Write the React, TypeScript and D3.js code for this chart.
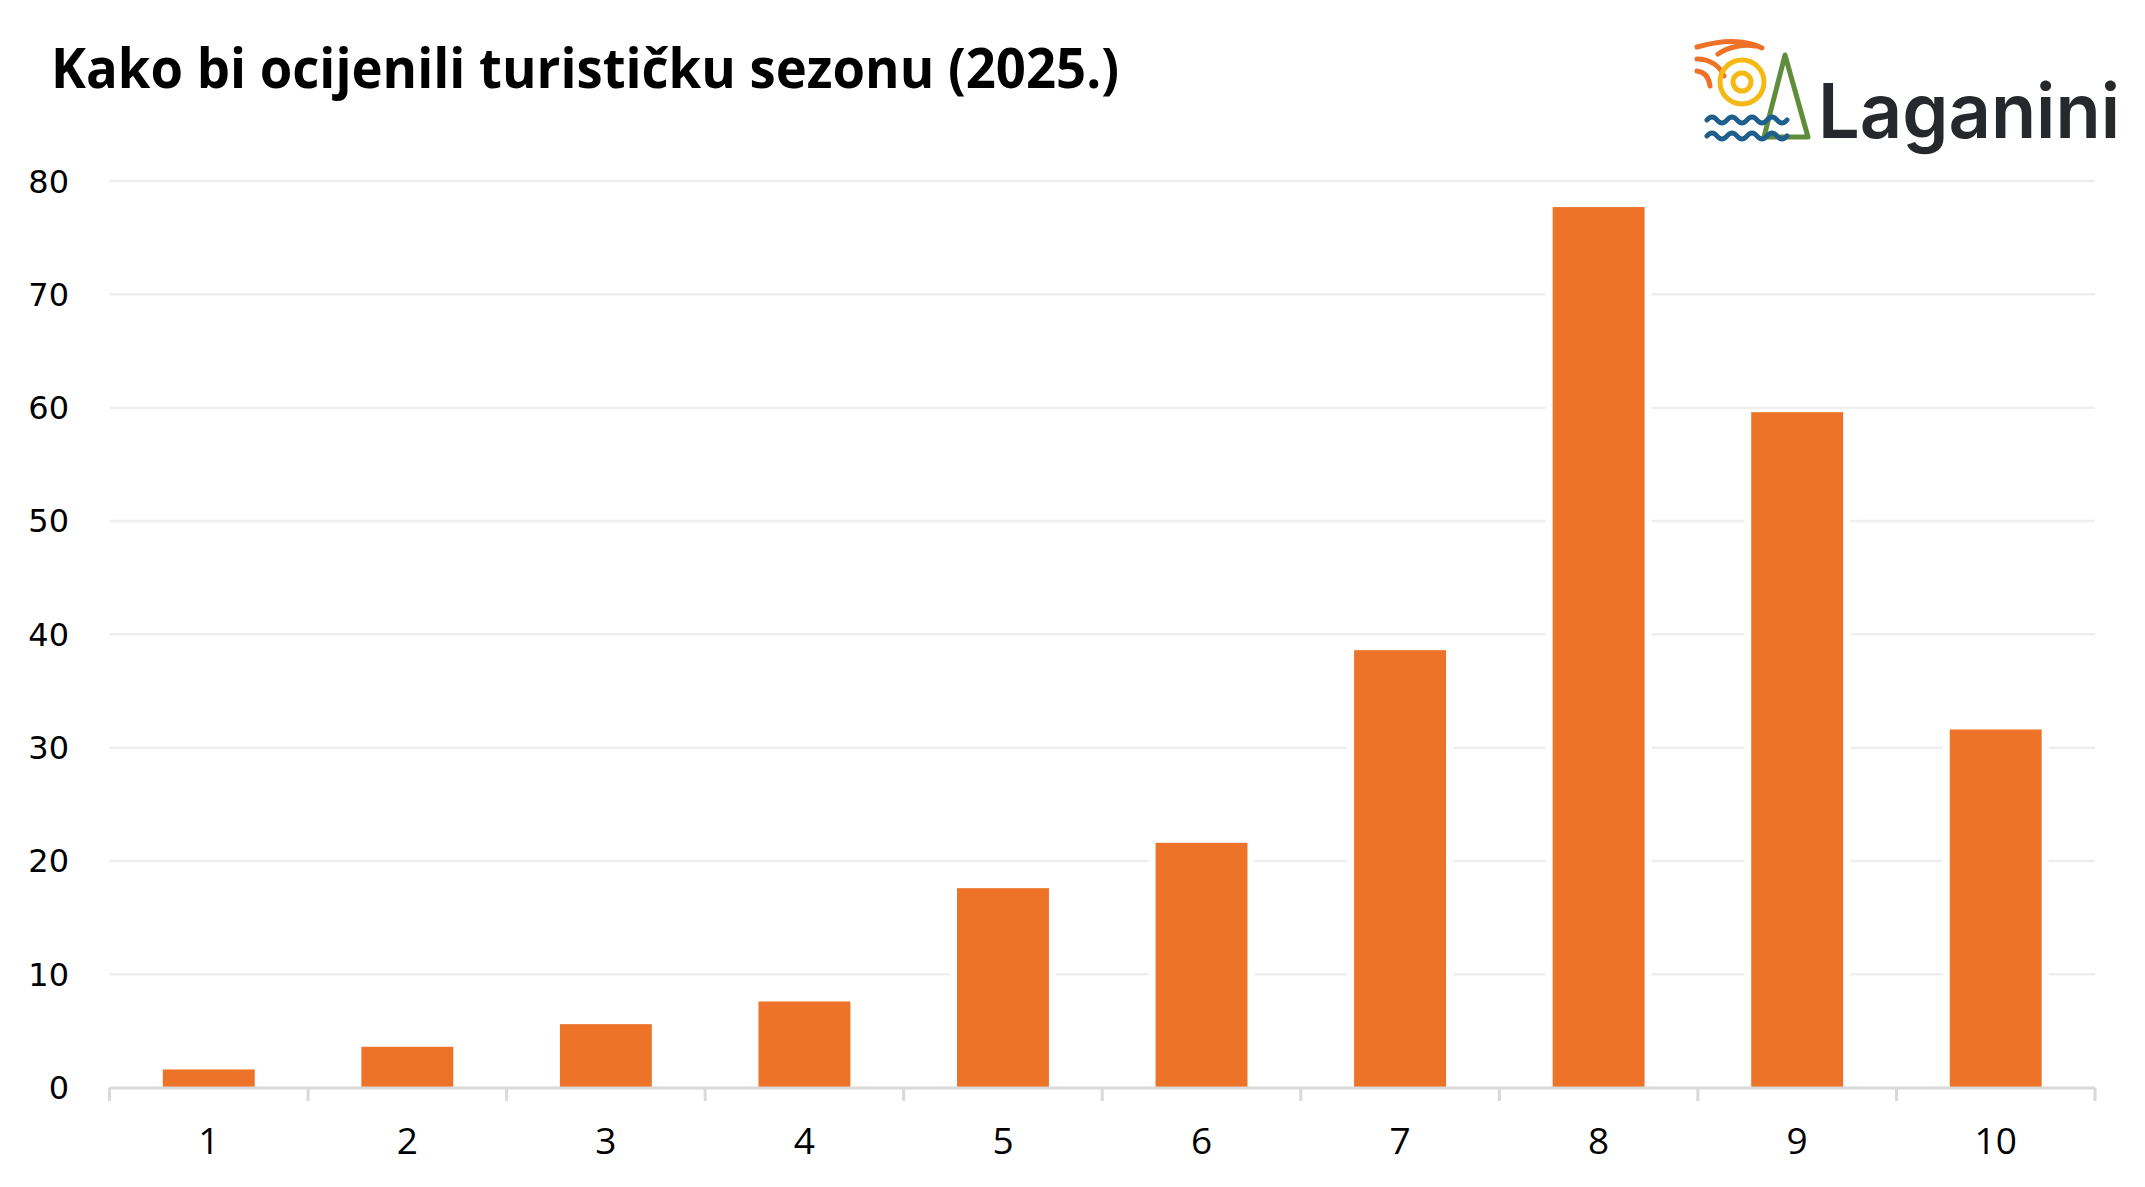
import React from "react";
import * as d3 from "d3";

const categories = ["1", "2", "3", "4", "5", "6", "7", "8", "9", "10"];
const values = [1.6, 3.6, 5.6, 7.6, 17.6, 21.6, 38.6, 77.7, 59.6, 31.6];
const yTicks = [0, 10, 20, 30, 40, 50, 60, 70, 80];
const title = "Kako bi ocijenili turističku sezonu (2025.)";

const W = 2145;
const H = 1187;
const left = 109.5;
const right = 2095;
const yZero = 1087.6;
const yTop = 181;
const barColor = "#ED7328";

export default function App() {
  const x = d3
    .scaleBand<string>()
    .domain(categories)
    .range([left, right])
    .paddingInner(0.537)
    .paddingOuter(0.2685);
  const y = d3.scaleLinear().domain([0, 80]).range([yZero, yTop]);
  const step = x.step();
  const bounds = d3.range(categories.length + 1).map((i) => left + i * step);

  const wave = (y0: number) => {
    const p = d3.path();
    p.moveTo(1707, y0);
    for (let i = 0; i < 4; i++) {
      const sx = 1707 + i * 20;
      p.quadraticCurveTo(sx + 5, y0 - 6, sx + 10, y0);
      p.quadraticCurveTo(sx + 15, y0 + 6, sx + 20, y0);
    }
    return p.toString();
  };

  return (
    <svg
      width={W}
      height={H}
      viewBox={`0 0 ${W} ${H}`}
      style={{ position: "absolute", left: 0, top: 0, background: "#fff" }}
    >
      <rect x={0} y={0} width={W} height={H} fill="#fff" />
      <text
        x={51}
        y={88}
        fontFamily="'Open Sans', 'Noto Sans', sans-serif"
        fontWeight={700}
        fontSize={55}
        fill="#000"
        textLength={1068}
        lengthAdjust="spacingAndGlyphs"
      >
        {title}
      </text>

      {/* gridlines */}
      {yTicks.slice(1).map((t) => (
        <line key={t} x1={left} x2={right} y1={y(t)} y2={y(t)} stroke="#efefef" strokeWidth={2.5} />
      ))}
      {/* y labels */}
      {yTicks.map((t) => (
        <text
          key={t}
          x={69}
          y={y(t)}
          dy="0.36em"
          textAnchor="end"
          fontFamily="'DejaVu Sans', sans-serif"
          fontSize={32}
          fill="#000"
        >
          {t}
        </text>
      ))}

      {/* white gaps around bars */}
      {categories.map((c, i) => (
        <rect
          key={"g" + c}
          x={(x(c) as number) - 7}
          y={y(values[i]) - 1}
          width={x.bandwidth() + 14}
          height={yZero - y(values[i]) + 1}
          fill="#fff"
        />
      ))}
      {/* bars */}
      {categories.map((c, i) => (
        <rect
          key={c}
          x={x(c) as number}
          y={y(values[i])}
          width={x.bandwidth()}
          height={yZero - y(values[i])}
          fill={barColor}
        />
      ))}

      {/* x axis */}
      <line x1={left} x2={right} y1={yZero + 0.5} y2={yZero + 0.5} stroke="#d9d9d9" strokeWidth={3} />
      {bounds.map((b, i) => (
        <line key={i} x1={b} x2={b} y1={yZero} y2={1101} stroke="#d9d9d9" strokeWidth={3} />
      ))}
      {categories.map((c) => (
        <text
          key={c}
          x={(x(c) as number) + x.bandwidth() / 2}
          y={1154}
          textAnchor="middle"
          fontFamily="'Open Sans', 'Noto Sans', sans-serif"
          fontSize={37}
          fill="#000"
        >
          {c}
        </text>
      ))}

      {/* logo */}
      <g fill="none" strokeLinecap="round" strokeLinejoin="round">
        <path d="M1697,47 C1718,41 1742,38 1762,48" stroke="#EE7127" strokeWidth={5} />
        <path d="M1697,59 C1710,59 1720,66 1724,76" stroke="#EE7127" strokeWidth={5} />
        <path d="M1697,71 C1705,72 1709,78 1710,86" stroke="#EE7127" strokeWidth={5} />
        <path d="M1718,54 C1730,46 1745,44 1755,46" stroke="#EE7127" strokeWidth={5} />
        <circle cx={1742} cy={82} r={22} stroke="#F5B916" strokeWidth={5} />
        <circle cx={1742} cy={82} r={9} stroke="#F5B916" strokeWidth={5} />
        <rect x={1705} y={112} width={84} height={30} fill="#fff" stroke="none" />
        <path d="M1785,55 L1764,137 L1808,137 Z" stroke="#5F8D3C" strokeWidth={5} />
        <path d={wave(120)} stroke="#1F5F8E" strokeWidth={5} />
        <path d={wave(136)} stroke="#1F5F8E" strokeWidth={5} />
      </g>
      <text
        x={1818}
        y={138}
        fontFamily="'Inter', 'Lato', sans-serif"
        fontWeight={600}
        fontSize={76}
        fill="#25282D"
        textLength={302}
        lengthAdjust="spacingAndGlyphs"
      >
        Laganini
      </text>
    </svg>
  );
}
